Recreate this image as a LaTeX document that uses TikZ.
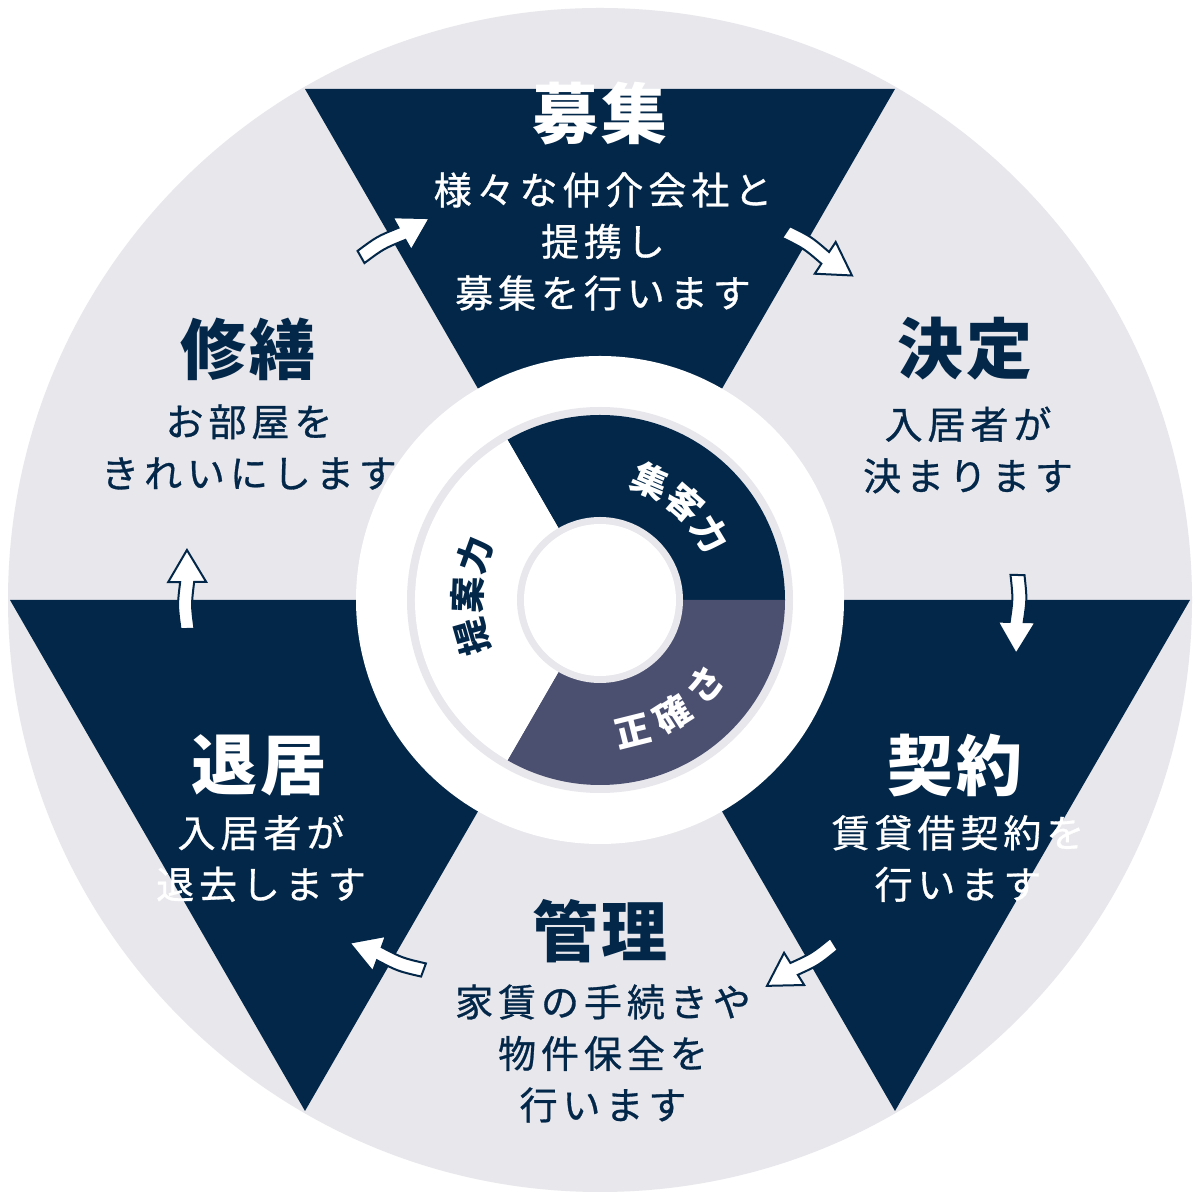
\documentclass[tikz,border=0pt]{standalone}
\usepackage{fontspec}
\newfontfamily\jp{Noto Sans CJK JP}
\newfontfamily\jpsub[LetterSpace=13, FakeBold=0.8]{Noto Sans CJK JP}
\newfontfamily\jptitle[LetterSpace=6]{Noto Sans CJK JP}
\definecolor{navy}{RGB}{3,39,73}
\definecolor{slate}{RGB}{76,80,112}
\definecolor{lightgray}{RGB}{231,231,236}
\newcommand\blockarrow[3]{%
  \begin{scope}[shift={#1}, rotate=#2]
    \coordinate (#3) at (0,0);
    \draw[blockarr] (0,7) .. controls (24,10) .. (47,7) -- (47,19) -- (79,0)
      -- (47,-19) -- (47,-7) .. controls (24,-4) .. (0,-7) -- cycle;
  \end{scope}}
\begin{document}
\begin{tikzpicture}[x=1pt,y=1pt,
  title/.style={font=\jptitle\bfseries\fontsize{66}{70}\selectfont, inner sep=0pt},
  sub/.style={font=\jpsub\fontsize{38}{51.5}\selectfont, align=center, inner sep=0pt},
  ringlabel/.style={font=\jp\bfseries\fontsize{36}{38}\selectfont, inner sep=0pt},
  blockarr/.style={fill=white, draw=navy, line width=2pt, line join=miter}
]
\useasboundingbox (0,0) rectangle (1200,1200);
\fill[white] (0,0) rectangle (1200,1200);
% outer disk
\fill[lightgray] (600,600) circle[radius=592];
% dark hexagon sectors
\fill[navy] (600,600) -- (895,1111) -- (305,1111) -- cycle;
\fill[navy] (600,600) -- (1190,600) -- (895,89) -- cycle;
\fill[navy] (600,600) -- (10,600) -- (305,89) -- cycle;
% central white disk
\fill[white] (600,600) circle[radius=244];
% inner donut
\fill[lightgray] (600,600) circle[radius=193];
\fill[navy] (600,600) -- ++(0:185) arc[start angle=0, end angle=120, radius=185] -- cycle;
\fill[slate] (600,600) -- ++(0:185) arc[start angle=0, end angle=-120, radius=185] -- cycle;
\fill[white] (600,600) -- ++(120:185) arc[start angle=120, end angle=240, radius=185] -- cycle;
\fill[lightgray] (600,600) circle[radius=83];
\fill[white] (600,600) circle[radius=76];
% ring labels
\begin{scope}[shift={(600,600)}]
  \foreach \ch/\a [count=\i] in {集/67, 客/49, 力/31}
    \node[ringlabel, text=white, rotate=\a-90] (ka\i) at (\a:129) {\ch};
  \foreach \ch/\a [count=\i] in {正/-76, 確/-57.5, さ/-39}
    \node[ringlabel, text=white, rotate=\a+90] (sk\i) at (\a:135) {\ch};
  \foreach \ch/\a [count=\i] in {提/196, 案/178, 力/160}
    \node[ringlabel, text=navy, rotate=\a-90] (tr\i) at (\a:133) {\ch};
\end{scope}
% titles and texts
\node[title, text=white] (boshu) at (600,1086) {募集};
\node[sub, text=white] (boshuT) at (603,958.5) {様々な仲介会社と\\提携し\\募集を行います};
\node[title, text=navy] (kettei) at (965,851) {決定};
\node[sub, text=navy] (ketteiT) at (968,750) {入居者が\\決まります};
\node[title, text=white] (keiyaku) at (955,435) {契約};
\node[sub, text=white] (keiyakuT) at (958,341.5) {賃貸借契約を\\行います};
\node[title, text=navy] (kanri) at (600,269) {管理};
\node[sub, text=navy] (kanriT) at (603,146.5) {家賃の手続きや\\物件保全を\\行います};
\node[title, text=white] (taikyo) at (259,435) {退居};
\node[sub, text=white] (taikyoT) at (261,341.5) {入居者が\\退去します};
\node[title, text=navy] (shuzen) at (248,851) {修繕};
\node[sub, text=navy] (shuzenT) at (249,753) {お部屋を\\きれいにします};
% arrows
\blockarrow{(361,943)}{29.5}{a1}
\blockarrow{(786,968)}{-33.4}{a2}
\blockarrow{(1017.5,625)}{-91}{a3}
\blockarrow{(834,256)}{212}{a4}
\blockarrow{(423.5,230)}{159.8}{a5}
\blockarrow{(187.5,571)}{90.4}{a6}
\end{tikzpicture}
\end{document}
